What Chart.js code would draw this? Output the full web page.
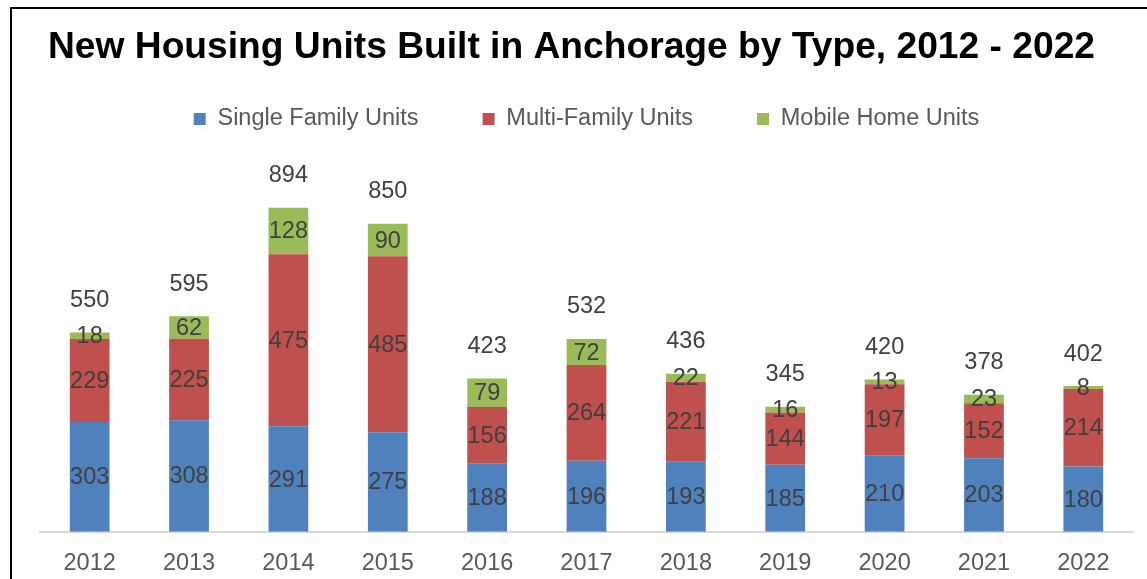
<!DOCTYPE html>
<html><head><meta charset="utf-8">
<script src="https://cdn.jsdelivr.net/npm/chart.js@4"></script>
<style>html,body{margin:0;padding:0;background:#fff;}#wrap{width:1147px;height:579px;position:relative;}</style>
</head><body><div id="wrap"><canvas id="c" width="1147" height="579"></canvas></div>
<script>
const years = ['2012','2013','2014','2015','2016','2017','2018','2019','2020','2021','2022'];
const singleFamily = [303,308,291,275,188,196,193,185,210,203,180];
const multiFamily = [229,225,475,485,156,264,221,144,197,152,214];
const mobileHome = [18,62,128,90,79,72,22,16,13,23,8];
const seriesNames = ['Single Family Units','Multi-Family Units','Mobile Home Units'];
const titleText = 'New Housing Units Built in Anchorage by Type, 2012 - 2022';

const FONT = "'Liberation Sans', Arial, sans-serif";

const borderPlugin = {
  id: 'borderPlugin',
  beforeDraw(chart) {
    const ctx = chart.ctx;
    ctx.save();
    ctx.fillStyle = '#fff';
    ctx.fillRect(0,0,chart.width,chart.height);
    ctx.strokeStyle = '#000';
    ctx.lineWidth = 2;
    ctx.beginPath();
    ctx.moveTo(11, chart.height + 5);
    ctx.lineTo(11, 8);
    ctx.lineTo(chart.width + 5, 8);
    ctx.stroke();
    ctx.restore();
  }
};

const labelPlugin = {
  id: 'labelPlugin',
  afterDatasetsDraw(chart) {
    const ctx = chart.ctx;
    ctx.save();
    ctx.font = "23.5px " + FONT;
    ctx.fillStyle = '#404040';
    ctx.textAlign = 'center';
    ctx.textBaseline = 'middle';
    chart.data.datasets.forEach((ds, di) => {
      const meta = chart.getDatasetMeta(di);
      meta.data.forEach((el, i) => {
        const p = el.getProps(['x','y','base'], true);
        ctx.fillText(String(ds.data[i]), p.x, (p.y + p.base) / 2 + 1);
      });
    });
    const last = chart.getDatasetMeta(chart.data.datasets.length - 1);
    last.data.forEach((el, i) => {
      const total = chart.data.datasets.reduce((s, d) => s + d.data[i], 0);
      const p = el.getProps(['x','y'], true);
      ctx.fillText(String(total), p.x, p.y - 32);
    });
    ctx.restore();
  }
};

new Chart(document.getElementById('c'), {
  type: 'bar',
  data: {
    labels: years,
    datasets: [
      { label: seriesNames[0], data: singleFamily, backgroundColor: '#4F81BD' },
      { label: seriesNames[1], data: multiFamily, backgroundColor: '#C0504D' },
      { label: seriesNames[2], data: mobileHome, backgroundColor: '#9BBB59' }
    ]
  },
  options: {
    responsive: false,
    animation: false,
    devicePixelRatio: 1,
    layout: { padding: { left: 10, right: 14, top: 0, bottom: -17 } },
    datasets: { bar: { barPercentage: 0.4, categoryPercentage: 1.0 } },
    plugins: {
      title: {
        display: true, text: titleText, color: '#000', fullSize: true,
        font: { family: FONT, size: 37.2, weight: 'bold' },
        padding: { top: 25, bottom: -26.4 }
      },
      legend: {
        display: true, position: 'top', fullSize: false,
        labels: {
          boxWidth: 12, boxHeight: 12, padding: 64, color: '#595959',
          font: { family: FONT, size: 23.5 }
        }
      },
      tooltip: { enabled: false }
    },
    scales: {
      x: {
        stacked: true,
        grid: { display: false, drawTicks: false },
        border: { display: true, color: '#D9D9D9', width: 2 },
        ticks: { color: '#595959', font: { family: FONT, size: 23.5 }, padding: 18 }
      },
      y: {
        stacked: true, display: true, min: 0, max: 1079,
        grid: { display: false, drawTicks: false },
        border: { display: false },
        ticks: { display: false },
        afterFit(scale) { scale.width = 30; }
      }
    }
  },
  plugins: [borderPlugin, labelPlugin]
});
</script></body></html>
